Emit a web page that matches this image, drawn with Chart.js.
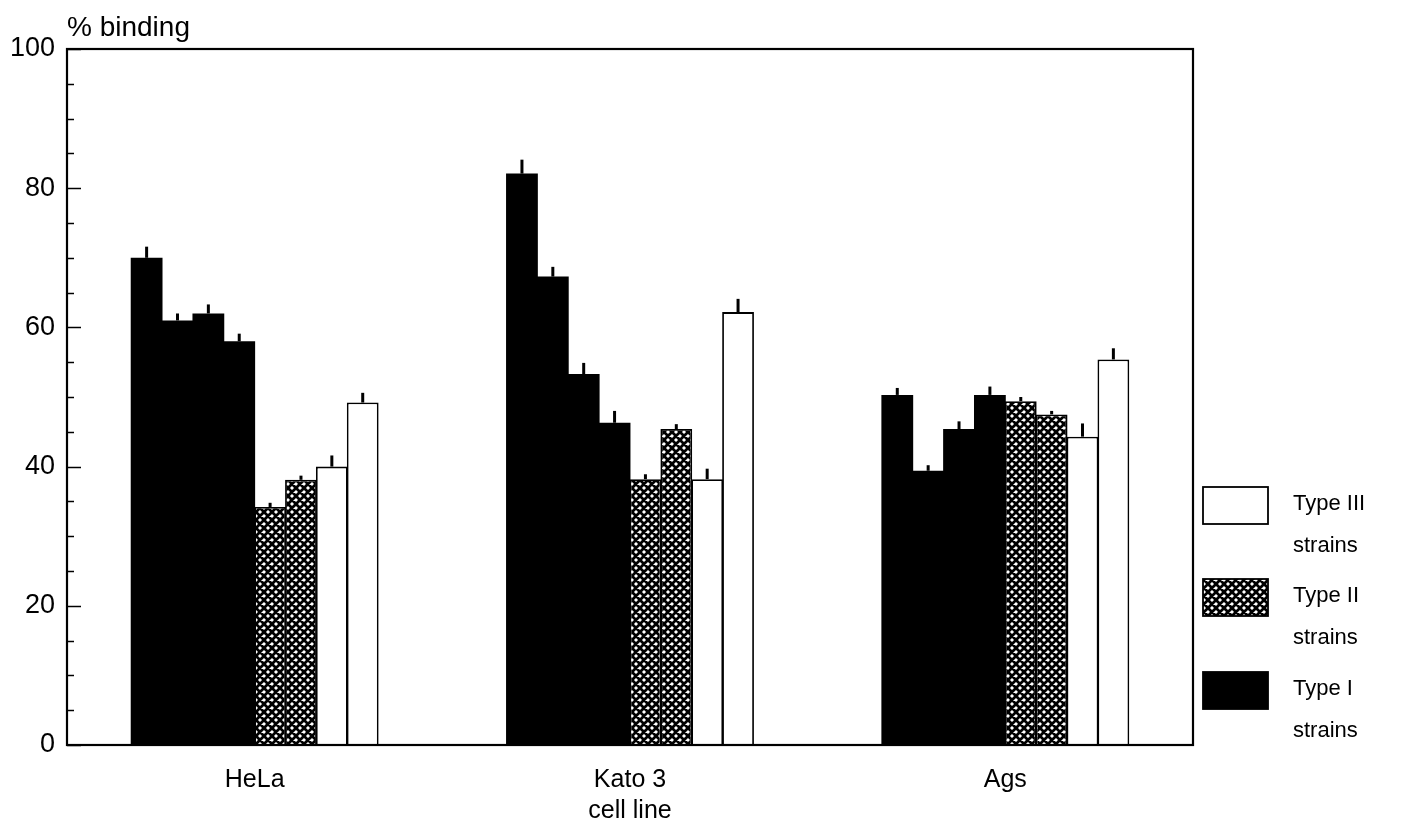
<!DOCTYPE html>
<html>
<head>
<meta charset="utf-8">
<title>% binding by cell line</title>
<script src="https://cdn.jsdelivr.net/npm/chart.js@4.4.1/dist/chart.umd.min.js"></script>
<style>
  html, body { margin: 0; padding: 0; background: #fff; }
  #chart { display: block; }
</style>
</head>
<body>
<canvas id="chart" width="1407" height="837"></canvas>
<script>
// --- data
var cellLines = ["HeLa", "Kato 3", "Ags"];
var strainTypes = ["Type I", "Type I", "Type I", "Type I", "Type II", "Type II", "Type III", "Type III"];
var helaBinding = [70, 61, 62, 58, 34.2, 38.1, 40, 49.2];
var kato3Binding = [82.1, 67.3, 53.3, 46.3, 38.2, 45.4, 38.2, 62.2];
var agsBinding = [50.3, 39.4, 45.4, 50.3, 49.4, 47.5, 44.3, 55.4];
var helaError = [1.6, 1.0, 1.3, 1.1, 0.6, 0.6, 1.6, 1.4];
var kato3Error = [2.0, 1.4, 1.6, 1.7, 0.7, 0.7, 1.5, 1.9];
var agsError = [1.0, 0.8, 1.1, 1.2, 0.6, 0.5, 1.9, 1.6];
var majorTicks = [0, 20, 40, 60, 80, 100];
var legendItems = [["Type III", "strains"], ["Type II", "strains"], ["Type I", "strains"]];
var legendTypes = ["Type III", "Type II", "Type I"];

var FONT = '"Liberation Sans", Arial, Helvetica, sans-serif';

// --- cross-hatch fill for type II strains
function makeHatch() {
  var c = document.createElement("canvas");
  c.width = 8; c.height = 8;
  var g = c.getContext("2d");
  g.fillStyle = "#fff";
  g.fillRect(0, 0, 8, 8);
  g.strokeStyle = "#000";
  g.lineWidth = 2.8;
  g.beginPath();
  for (var k = -1; k <= 1; k++) {
    g.moveTo(-2, -2 + k * 8); g.lineTo(10, 10 + k * 8);
    g.moveTo(-2, 10 + k * 8); g.lineTo(10, -2 + k * 8);
  }
  g.stroke();
  return g.createPattern(c, "repeat");
}
var hatch = makeHatch();

function fillFor(type) {
  if (type === "Type I") return "#000";
  if (type === "Type II") return hatch;
  return "#fff";
}

var datasets = strainTypes.map(function (type, i) {
  return {
    label: type + " strain " + (i + 1),
    data: [helaBinding[i], kato3Binding[i], agsBinding[i]],
    errors: [helaError[i], kato3Error[i], agsError[i]],
    backgroundColor: fillFor(type),
    borderColor: "#000",
    borderWidth: type === "Type I" ? 0 : 1.8,
    borderSkipped: "bottom"
  };
});

// --- error bars (upper only)
var errorBars = {
  id: "errorBars",
  afterDatasetsDraw: function (chart) {
    var ctx = chart.ctx;
    var y = chart.scales.y;
    ctx.save();
    ctx.strokeStyle = "#000";
    ctx.lineWidth = 3;
    chart.data.datasets.forEach(function (ds, di) {
      var meta = chart.getDatasetMeta(di);
      meta.data.forEach(function (bar, j) {
        var top = y.getPixelForValue(ds.data[j] + ds.errors[j]);
        ctx.beginPath();
        ctx.moveTo(bar.x, bar.y);
        ctx.lineTo(bar.x, top);
        ctx.stroke();
      });
    });
    ctx.restore();
  }
};

// --- frame, inward ticks, y title, legend
var frame = {
  id: "frame",
  afterDraw: function (chart) {
    var ctx = chart.ctx;
    var a = chart.chartArea;
    var y = chart.scales.y;
    ctx.save();
    ctx.strokeStyle = "#000";
    ctx.lineWidth = 2.2;
    ctx.strokeRect(a.left, a.top, a.right - a.left, a.bottom - a.top);

    y.ticks.forEach(function (t) {
      var py = Math.round(y.getPixelForValue(t.value)) + 0.5;
      var len = majorTicks.indexOf(t.value) >= 0 ? 14 : 7;
      ctx.lineWidth = 1.5;
      ctx.beginPath();
      ctx.moveTo(a.left, py);
      ctx.lineTo(a.left + len, py);
      ctx.stroke();
    });

    ctx.fillStyle = "#000";
    ctx.font = "28px " + FONT;
    ctx.textAlign = "left";
    ctx.textBaseline = "middle";
    ctx.fillText("% binding", a.left, a.top - 21);

    // legend
    var sx = a.right + 10, sw = 65, sh = 37;
    var tops = [a.bottom - 258, a.bottom - 166, a.bottom - 73];
    ctx.font = "22px " + FONT;
    legendItems.forEach(function (lines, i) {
      var ty = tops[i];
      ctx.fillStyle = fillFor(legendTypes[i]);
      ctx.fillRect(sx, ty, sw, sh);
      ctx.lineWidth = 1.8;
      ctx.strokeRect(sx, ty, sw, sh);
      ctx.fillStyle = "#000";
      ctx.fillText(lines[0], a.right + 100, ty + 17);
      ctx.fillText(lines[1], a.right + 100, ty + 59);
    });
    ctx.restore();
  }
};

new Chart(document.getElementById("chart"), {
  type: "bar",
  data: { labels: cellLines, datasets: datasets },
  plugins: [errorBars, frame],
  options: {
    responsive: false,
    animation: false,
    devicePixelRatio: 1,
    layout: { padding: { top: 49, right: 214, left: 0, bottom: 0 } },
    datasets: { bar: { categoryPercentage: 0.658, barPercentage: 1.03 } },
    plugins: { legend: { display: false }, tooltip: { enabled: false } },
    scales: {
      x: {
        grid: { display: false, drawTicks: false },
        border: { display: false },
        ticks: { color: "#000", padding: 20, font: { family: FONT, size: 25 } },
        title: {
          display: true, text: "cell line", color: "#000",
          font: { family: FONT, size: 25 }, padding: { top: 0, bottom: 11 }
        },
        afterFit: function (s) { s.height = 92; }
      },
      y: {
        min: 0, max: 100,
        grid: { display: false, drawTicks: false },
        border: { display: false },
        ticks: {
          stepSize: 5, autoSkip: false, color: "#000", padding: 12,
          font: { family: FONT, size: 27 },
          callback: function (v) { return majorTicks.indexOf(v) >= 0 ? v : ""; }
        },
        afterFit: function (s) { s.width = 67; }
      }
    }
  }
});
</script>
</body>
</html>
